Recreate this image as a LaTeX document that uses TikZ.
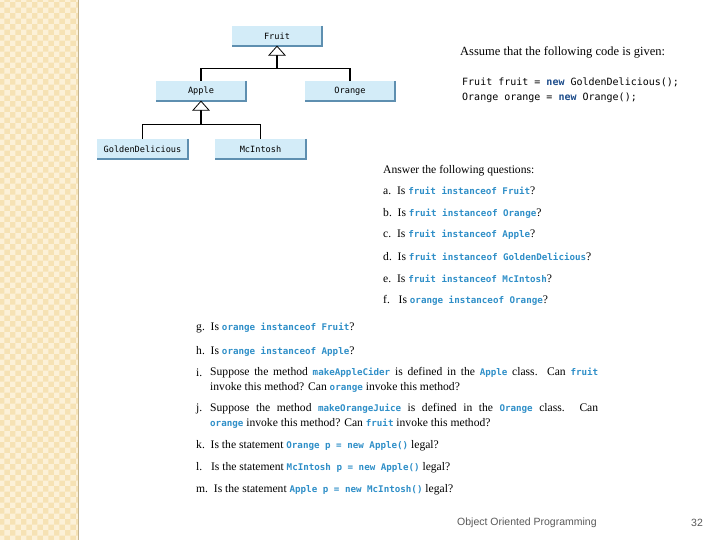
\documentclass[tikz,border=0pt]{standalone}
\usepackage{fontspec}
\setmainfont{Liberation Serif}
\setsansfont{Liberation Sans}
\setmonofont{DejaVu Sans Mono}
\usetikzlibrary{patterns}
\definecolor{codeblue}{HTML}{2F8FC8}
\definecolor{newblue}{HTML}{1F4E8C}
\definecolor{boxfill}{HTML}{D3ECF8}
\definecolor{boxshade}{HTML}{5E8FB0}
\definecolor{stripbg}{HTML}{F6E2B4}
\definecolor{stripfg}{HTML}{FCF1D8}
\newcommand{\cdb}[1]{{\fontsize{9.2}{10}\ttfamily\bfseries\color{codeblue}#1}}
\begin{document}
\begin{tikzpicture}[x=1pt,y=-1pt,
  cls/.style={draw=none,fill=boxfill,minimum width=90pt,minimum height=20pt,inner sep=0pt,font=\fontsize{8.6}{10}\ttfamily},
  txt/.style={anchor=west,inner sep=0pt,font=\fontsize{11.6}{13}\selectfont},
  lbl/.style={anchor=west,inner sep=0pt,font=\fontsize{11.6}{13}\selectfont},
  inh/.style={line width=1.2pt},
  tri/.style={draw,line width=0.8pt,fill=white}]
\useasboundingbox (0,0) rectangle (720,540);
\fill[white] (0,0) rectangle (720,540);
\fill[stripbg] (0,0) rectangle (78,540);
\fill[pattern=checkerboard, pattern color=stripfg] (0,0) rectangle (78,540);
\draw[stripbg!80!black, line width=0.4pt] (78,0) -- (78,540);
% class boxes
\node[cls] (fruit) at (277,36) {Fruit};
\node[cls] (apple) at (201,91) {Apple};
\node[cls] (orange) at (350,91) {Orange};
\node[cls,minimum width=91pt] (gd) at (142.5,149) {GoldenDelicious};
\node[cls,minimum width=91pt] (mc) at (260.5,149) {McIntosh};
\foreach \n in {fruit,apple,orange,gd,mc}{
  \draw[boxshade,line width=1.6pt] (\n.north east) -- (\n.south east) -- (\n.south west);}
% inheritance
\coordinate (ft) at ([yshift=-9pt]fruit.south);
\coordinate (fj) at ([yshift=-22pt]fruit.south);
\draw[inh] (ft) -- (fj) (fj -| apple.north) -- (fj -| orange.north);
\draw[inh] (fj -| apple.north) -- (apple.north) (fj -| orange.north) -- (orange.north);
\draw[tri] (fruit.south) -- ++(-8,9) -- ++(16,0) -- cycle;
\coordinate (at) at ([yshift=-9pt]apple.south);
\coordinate (aj) at ([yshift=-23pt]apple.south);
\draw[inh] (at) -- (aj) (aj -| gd.north) -- (aj -| mc.north);
\draw[inh] (aj -| gd.north) -- (gd.north) (aj -| mc.north) -- (mc.north);
\draw[tri] (apple.south) -- ++(-8,9) -- ++(16,0) -- cycle;
% code
\node[txt,font=\fontsize{12.5}{14}\selectfont] (assume) at (460,52) {Assume that the following code is given:};
\node[txt,font=\fontsize{10}{12}\ttfamily] (c1) at (462,82) {Fruit fruit = {\bfseries\color{newblue}new} GoldenDelicious();};
\node[txt,font=\fontsize{10}{12}\ttfamily] (c2) at (462,98) {Orange orange = {\bfseries\color{newblue}new} Orange();};
\node[txt] (ans) at (383,171) {Answer the following questions:};
\node[lbl] (la) at (383,191) {a.\enspace Is \cdb{fruit instanceof Fruit}?};
\node[lbl] (lb) at (383,213) {b.\enspace Is \cdb{fruit instanceof Orange}?};
\node[lbl] (lc) at (383,235) {c.\enspace Is \cdb{fruit instanceof Apple}?};
\node[lbl] (ld) at (383,257) {d.\enspace Is \cdb{fruit instanceof GoldenDelicious}?};
\node[lbl] (le) at (383,279) {e.\enspace Is \cdb{fruit instanceof McIntosh}?};
\node[lbl] (lf) at (383,300) {f.\enspace\ Is \cdb{orange instanceof Orange}?};
\node[lbl] (lg) at (196,328) {g.\enspace Is \cdb{orange instanceof Fruit}?};
\node[lbl] (lh) at (196,351) {h.\enspace Is \cdb{orange instanceof Apple}?};
\node[lbl] (li) at (196,373) {i.};
\node[txt] (ti1) at (210,373) {\makebox[388pt][s]{Suppose the method \cdb{makeAppleCider} is defined in the \cdb{Apple} class. Can \cdb{fruit}}};
\node[txt] (ti2) at (210,387) {invoke this method? Can \cdb{orange} invoke this method?};
\node[lbl] (lj) at (196,409) {j.};
\node[txt] (tj1) at (210,409) {\makebox[388pt][s]{Suppose the method \cdb{makeOrangeJuice} is defined in the \cdb{Orange} class. Can}};
\node[txt] (tj2) at (210,423) {\cdb{orange} invoke this method? Can \cdb{fruit} invoke this method?};
\node[lbl] (lk) at (196,446) {k.\enspace Is the statement \cdb{Orange p = new Apple()} legal?};
\node[lbl] (ll) at (196,468) {l.\enspace\ Is the statement \cdb{McIntosh p = new Apple()} legal?};
\node[lbl] (lm) at (196,490) {m.\enspace Is the statement \cdb{Apple p = new McIntosh()} legal?};
% footer
\node[txt,font=\sffamily\fontsize{10.5}{12}\selectfont,text=black!65] (foot) at (457,523) {Object Oriented Programming};
\node[txt,font=\sffamily\fontsize{10.5}{12}\selectfont,text=black!65] (pg) at (691,523) {32};
\end{tikzpicture}
\end{document}
